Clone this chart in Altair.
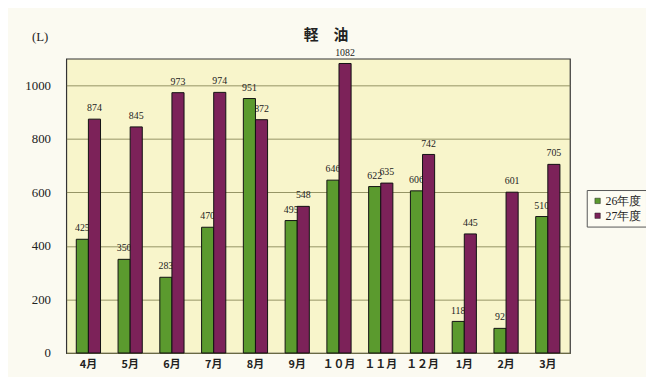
import altair as alt
import pandas as pd

months = ["4月", "5月", "6月", "7月", "8月", "9月", "１０月", "１１月", "１２月", "1月", "2月", "3月"]
fy26 = [425, 350, 283, 470, 951, 495, 646, 622, 606, 118, 92, 510]
fy27 = [874, 845, 973, 974, 872, 548, 1082, 635, 742, 445, 601, 705]
series = ["26年度", "27年度"]

rows = []
for m, a, b in zip(months, fy26, fy27):
    rows.append({"month": m, "series": series[0], "value": a})
    rows.append({"month": m, "series": series[1], "value": b})
df = pd.DataFrame(rows)

serif = "Liberation Serif"
cjk = "Noto Sans CJK JP"

x = alt.X("month:N", sort=months,
          scale=alt.Scale(paddingInner=0.42, paddingOuter=0.24),
          axis=alt.Axis(title=None, labelAngle=0, labelFont=cjk, labelFontSize=11,
                        labelFontWeight="bold", labelColor="#222", ticks=False,
                        labelPadding=6, domain=False, grid=False))
xo = alt.XOffset("series:N", sort=series)
y = alt.Y("value:Q", scale=alt.Scale(domain=[0, 1100], nice=False),
          axis=alt.Axis(values=[0, 200, 400, 600, 800, 1000], format="d", title="(L)",
                        titleAngle=0, titleX=-27, titleY=-15, titleFont=serif,
                        titleFontSize=13, titleFontWeight="normal", titleColor="#222",
                        labelFont=serif, labelFontSize=13, labelColor="#222",
                        labelPadding=16, ticks=False, domain=False,
                        gridColor="#7a7a4a", gridWidth=1, gridOpacity=0.8))
color = alt.Color("series:N", sort=series,
                  scale=alt.Scale(domain=series, range=["#5b9a2e", "#7c2259"]),
                  legend=alt.Legend(title=None, orient="none", legendX=527, legendY=133,
                                    symbolType="square", symbolSize=30,
                                    symbolStrokeColor="#222", symbolStrokeWidth=0.5,
                                    labelFont=serif, labelFontSize=12, labelColor="#222",
                                    rowPadding=3, padding=5, strokeColor="#555",
                                    fillColor="#fdfcf3", symbolOffset=0, labelOffset=2))

base = alt.Chart(df).encode(x=x, xOffset=xo, y=y)

labels = base.mark_text(baseline="bottom", dy=-6, font=serif, fontSize=10, color="#222").encode(
    text="value:Q")
bars = base.mark_bar(stroke="#111", strokeWidth=1).encode(color=color)

chart = alt.layer(labels, bars).properties(
    width=510, height=298,
    autosize=alt.AutoSizeParams(type="none"),
    padding={"left": 59, "top": 49, "right": 77, "bottom": 22},
    background="#fbfaf1",
    title=alt.TitleParams("軽　油", anchor="middle", font=cjk, fontSize=15,
                          fontWeight="bold", color="#222", offset=-12, dx=8),
).configure_view(fill="#f8f5cb", stroke="#333", strokeWidth=1.2)

chart.save("out.html", embed_options={"renderer": "svg", "actions": False})
